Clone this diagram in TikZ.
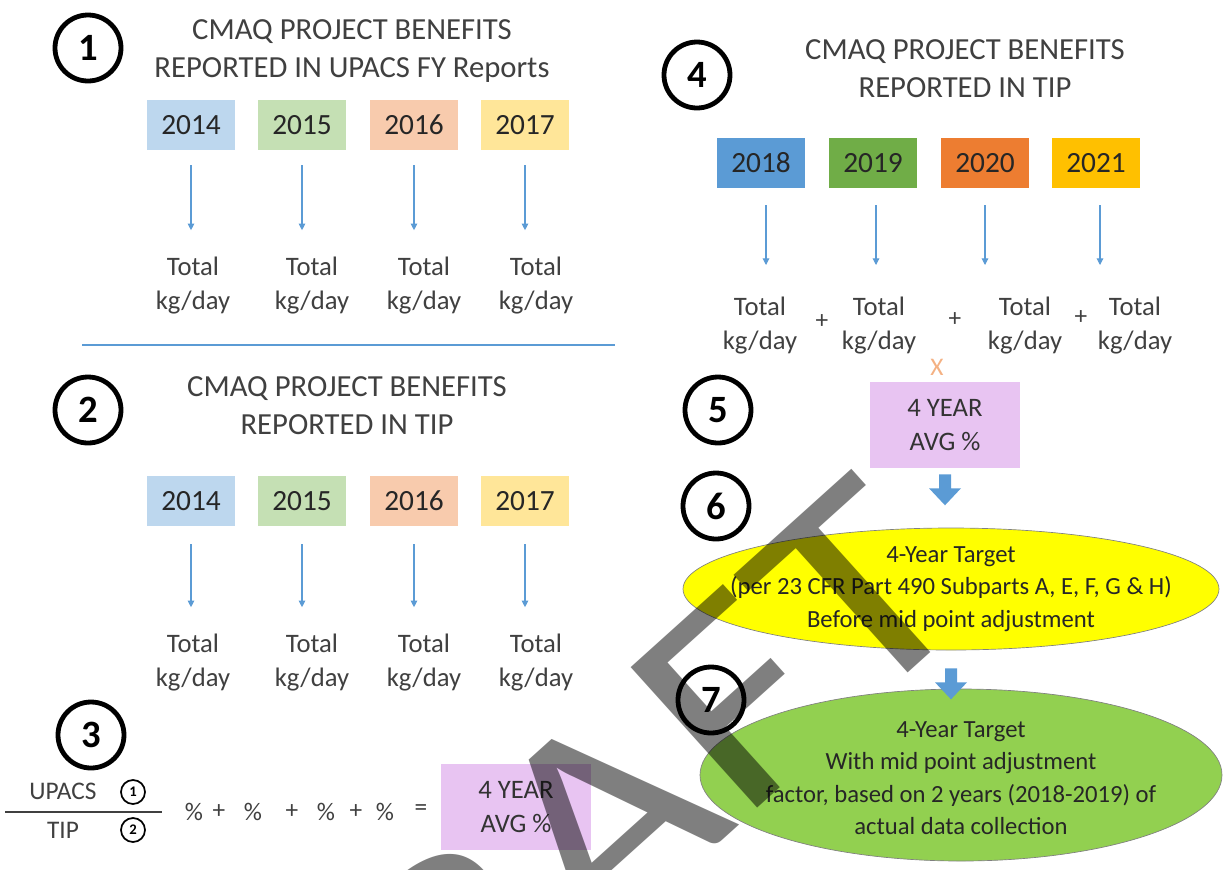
\documentclass[tikz,border=0pt]{standalone}
\usepackage{fontspec}
\setmainfont{Carlito}
\usepackage{tikz}
\usetikzlibrary{arrows.meta,calc,shapes.geometric}

\definecolor{lblue}{RGB}{189,215,238}
\definecolor{lgreen}{RGB}{197,224,180}
\definecolor{lorange}{RGB}{248,203,173}
\definecolor{lyellow}{RGB}{255,230,153}
\definecolor{dblue}{RGB}{91,155,213}
\definecolor{dgreen}{RGB}{112,173,71}
\definecolor{dorange}{RGB}{237,125,49}
\definecolor{dgold}{RGB}{255,192,0}
\definecolor{lavender}{RGB}{232,196,242}
\definecolor{txtgrey}{RGB}{64,64,64}
\definecolor{xorange}{RGB}{244,177,131}
\definecolor{ellyellow}{RGB}{255,255,0}
\definecolor{ellgreen}{RGB}{146,208,80}

\tikzset{
  numcirc/.style={circle, draw, line width=3.6pt, minimum size=49.5pt, inner sep=0pt,
    font=\fontsize{29}{29}\selectfont\bfseries},
  smallcirc/.style={circle, draw, line width=1.3pt, minimum size=18pt, inner sep=0pt,
    font=\fontsize{11}{11}\selectfont\bfseries},
  heading/.style={align=center, text=txtgrey, inner sep=0pt, font=\fontsize{23}{28.5}\selectfont},
  yearbox/.style={minimum width=66pt, minimum height=37.5pt, inner sep=0pt,
    text=black!85, font=\fontsize{22}{22}\selectfont},
  totalnode/.style={align=center, text=txtgrey, inner sep=0pt, font=\fontsize{20}{25.5}\selectfont},
  sumnode/.style={text=txtgrey, inner sep=0pt, font=\fontsize{19}{19}\selectfont},
  thinarr/.style={dblue, line width=0.8pt, -{Triangle[length=5pt,width=5pt]}},
  avgbox/.style={fill=lavender, minimum width=112.5pt, minimum height=64.5pt, inner sep=0pt,
    align=center, text=black!80, font=\fontsize{20}{26}\selectfont},
  target/.style={ellipse, draw=black!50, line width=0.5pt, inner sep=0pt},
  targettext/.style={align=center, inner sep=0pt, text=black!85, font=\fontsize{18.5}{24.4}\selectfont},
}

\begin{document}
\begin{tikzpicture}[x=0.75pt, y=-0.75pt]
\useasboundingbox (0,0) rectangle (1225,869);

% 1 -- UPACS reports
\node[numcirc] (n1) at (88,48) {1};
\node[heading] (h1) at (352,51) {CMAQ PROJECT BENEFITS\\REPORTED IN UPACS FY Reports};
\node[yearbox, fill=lblue] (a14) at (191,125) {2014};
\node[yearbox, fill=lgreen] (a15) at (302,125) {2015};
\node[yearbox, fill=lorange] (a16) at (414,125) {2016};
\node[yearbox, fill=lyellow] (a17) at (525,125) {2017};
\node[totalnode] (ta14) at (193,286) {Total\\kg/day};
\node[totalnode] (ta15) at (312,286) {Total\\kg/day};
\node[totalnode] (ta16) at (424,286) {Total\\kg/day};
\node[totalnode] (ta17) at (536,286) {Total\\kg/day};
\draw[thinarr] ($(a14.south)+(0,15)$) -- ($(a14.south |- ta14.north)+(0,-27)$);
\draw[thinarr] ($(a15.south)+(0,15)$) -- ($(a15.south |- ta15.north)+(0,-27)$);
\draw[thinarr] ($(a16.south)+(0,15)$) -- ($(a16.south |- ta16.north)+(0,-27)$);
\draw[thinarr] ($(a17.south)+(0,15)$) -- ($(a17.south |- ta17.north)+(0,-27)$);

\draw[dblue, line width=2.2pt] (82,345) -- (615,345);

% 2 -- TIP
\node[numcirc] (n2) at (88,410) {2};
\node[heading] (h2) at (347,406) {CMAQ PROJECT BENEFITS\\REPORTED IN TIP};
\node[yearbox, fill=lblue] (b14) at (191,501) {2014};
\node[yearbox, fill=lgreen] (b15) at (302,501) {2015};
\node[yearbox, fill=lorange] (b16) at (414,501) {2016};
\node[yearbox, fill=lyellow] (b17) at (525,501) {2017};
\node[totalnode] (tb14) at (193,663) {Total\\kg/day};
\node[totalnode] (tb15) at (312,663) {Total\\kg/day};
\node[totalnode] (tb16) at (424,663) {Total\\kg/day};
\node[totalnode] (tb17) at (536,663) {Total\\kg/day};
\draw[thinarr] ($(b14.south)+(0,18)$) -- ($(b14.south |- tb14.north)+(0,-27)$);
\draw[thinarr] ($(b15.south)+(0,18)$) -- ($(b15.south |- tb15.north)+(0,-27)$);
\draw[thinarr] ($(b16.south)+(0,18)$) -- ($(b16.south |- tb16.north)+(0,-27)$);
\draw[thinarr] ($(b17.south)+(0,18)$) -- ($(b17.south |- tb17.north)+(0,-27)$);

% 3 -- ratio
\node[numcirc] (n3) at (91,735) {3};
\node[sumnode] (upacs) at (63,791) {UPACS};
\node[sumnode] (tip) at (63,830) {TIP};
\draw[black!75, line width=2.2pt] (5,812) -- (162,812);
\node[smallcirc] (s1) at (133,792) {1};
\node[smallcirc] (s2) at (133,830) {2};
\node[sumnode] (p1) at (194,812) {\%};
\node[sumnode] (q1) at (219,812) {+};
\node[sumnode] (p2) at (253,812) {\%};
\node[sumnode] (q2) at (292,812) {+};
\node[sumnode] (p3) at (326,812) {\%};
\node[sumnode] (q3) at (356,812) {+};
\node[sumnode] (p4) at (385,812) {\%};
\node[sumnode] (eq) at (421,810) {=};
\node[avgbox] (avg3) at (516,807) {4 YEAR\\AVG \%};

% 4 -- TIP 2018-2021
\node[numcirc] (n4) at (697,75) {4};
\node[heading] (h4) at (965,69) {CMAQ PROJECT BENEFITS\\REPORTED IN TIP};
\node[yearbox, fill=dblue] (c18) at (761,163) {2018};
\node[yearbox, fill=dgreen] (c19) at (873,163) {2019};
\node[yearbox, fill=dorange] (c20) at (985,163) {2020};
\node[yearbox, fill=dgold] (c21) at (1096,163) {2021};
\node[totalnode] (tc18) at (760,326) {Total\\kg/day};
\node[totalnode] (tc19) at (879,326) {Total\\kg/day};
\node[totalnode] (tc20) at (1025,326) {Total\\kg/day};
\node[totalnode] (tc21) at (1135,326) {Total\\kg/day};
\draw[thinarr] (766,205) -- (766,265);
\draw[thinarr] (876,205) -- (876,265);
\draw[thinarr] (985,205) -- (985,265);
\draw[thinarr] (1100,205) -- (1100,265);
\node[sumnode] (r1) at (822,322) {+};
\node[sumnode] (r2) at (955,320) {+};
\node[sumnode] (r3) at (1081,318) {+};
\node[sumnode, text=xorange] (times) at (937,367) {X};

% 5 to 7
\node[numcirc] (n5) at (718,410) {5};
\node[avgbox] (avg5) at (945,425) {4 YEAR\\AVG \%};
\node[numcirc] (n6) at (716,506) {6};
\node[target, fill=ellyellow, minimum width=402pt, minimum height=91.5pt] (t6) at (951,589) {};
\node[targettext] (t6txt) at (t6) {4-Year Target\\(per 23 CFR Part 490 Subparts A, E, F, G \& H)\\Before mid point adjustment};
\node[numcirc] (n7) at (711,700) {7};
\node[target, fill=ellgreen, minimum width=391.5pt, minimum height=129pt] (t7) at (961,775) {};
\node[targettext] (t7txt) at (961,778) {4-Year Target\\With mid point adjustment\\factor, based on 2 years (2018-2019) of\\actual data collection};
\fill[dblue] ($(avg5.south)+(-6,6)$) -- ++(12,0) -- ++(0,14) -- ++(10,0) -- ++(-16,17)
  -- ++(-16,-17) -- ++(10,0) -- cycle;
\fill[dblue] ($(t6.south)+(-6,18)$) -- ++(12,0) -- ++(0,14) -- ++(10,0) -- ++(-16,17)
  -- ++(-16,-17) -- ++(10,0) -- cycle;

% watermark
\begin{scope}
\clip (0,0) rectangle (1225,869);
\node[rotate=42, xscale=1.16, text=black, opacity=0.5, inner sep=0pt, font=\fontsize{221}{221}\selectfont]
  (draft) at (577,844) {DRAFT};
\end{scope}
\end{tikzpicture}
\end{document}
